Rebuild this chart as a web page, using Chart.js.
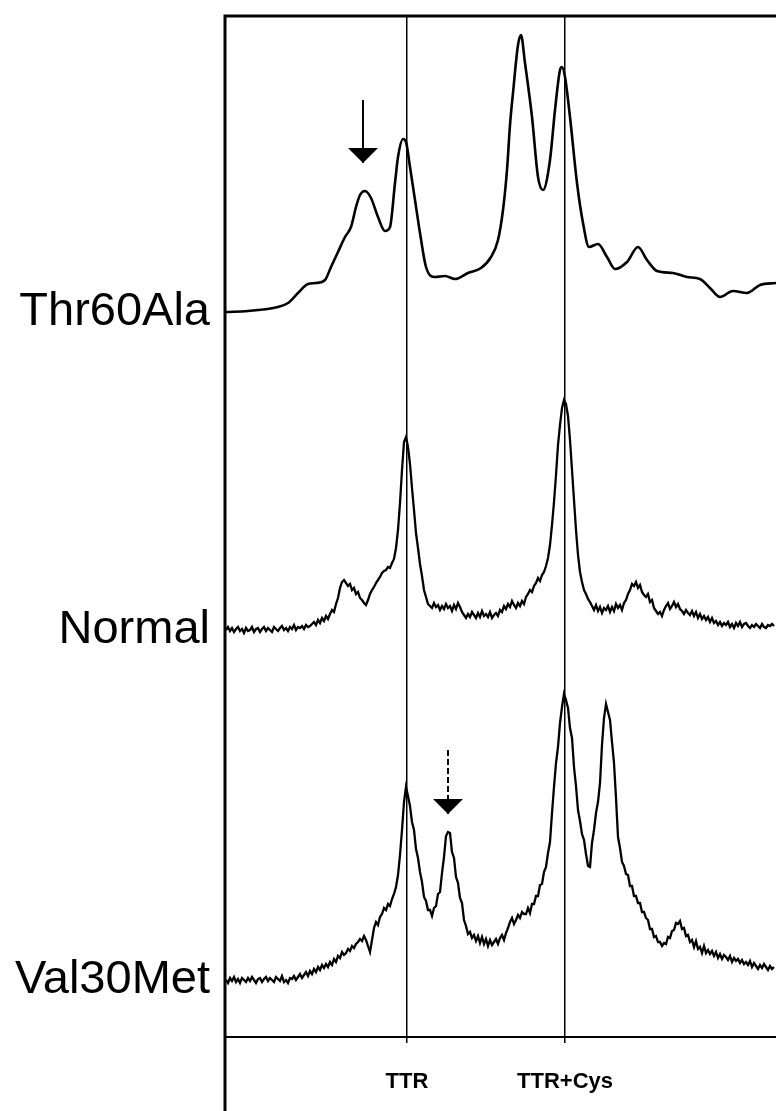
<!DOCTYPE html>
<html>
<head>
<meta charset="utf-8">
<script src="https://cdn.jsdelivr.net/npm/chart.js@4.4.1/dist/chart.umd.min.js"></script>
<style>
html, body { margin: 0; padding: 0; background: #fff; }
canvas { display: block; }
</style>
</head>
<body>
<canvas id="grafico" width="776" height="1111"></canvas>
<script>
// trace names and the level each trace sits at
const traceNames = ['Thr60Ala', 'Normal', 'Val30Met'];
const baselines = [725, 407, 57];

// reference peaks on the x axis
const peakNames = ['TTR', 'TTR+Cys'];
const peakPositions = [181, 339];

// Thr60Ala is smooth, read at uneven points
const thrX = [0, 22, 52, 62, 72, 82, 90, 99, 105, 112, 119, 125, 130, 134, 139, 145, 152, 159, 164, 169,
  172, 177, 180, 184, 189, 194, 200, 209, 219, 229, 242, 255, 265, 272, 277, 281, 284, 287, 292, 295,
  299, 306, 312, 317, 324, 329, 334, 336, 339, 344, 351, 357, 363, 372, 381, 389, 401, 412, 421, 431,
  447, 461, 474, 484, 494, 507, 521, 534, 550];
const thr60Ala = [0, 1, 5, 9, 19, 28, 29, 32, 45, 60, 75, 85, 105, 117, 121, 114, 95, 81, 85, 129,
  155, 173, 170, 145, 112, 79, 45, 35, 36, 33, 39, 44, 55, 72, 102, 142, 187, 219, 267, 277,
  249, 195, 135, 122, 152, 202, 242, 245, 235, 195, 129, 89, 65, 68, 55, 43, 50, 65, 52, 41,
  39, 35, 33, 24, 15, 21, 19, 27, 29];

// Normal and Val30Met are noisy, read every 2 units from 0
const step = 2;
const normal = [
  0, 3, -1, 2, -2, 1, 3, -1, 1, -3,
  2, -1, 0, 3, -2, 1, 2, -2, 1, 3,
  -1, 2, 0, -2, 3, 1, -1, 2, 4, 0,
  2, -1, 3, 1, 5, 0, 3, 2, 4, 1,
  5, 3, 4, 6, 8, 5, 10, 7, 12, 9,
  14, 11, 16, 20, 18, 26, 32, 42, 48, 50,
  47, 44, 46, 40, 42, 36, 38, 32, 30, 27,
  25, 30, 36, 40, 43, 47, 50, 53, 57, 59,
  60, 63, 62, 67, 71, 82, 100, 127, 160, 188,
  193, 183, 166, 142, 120, 97, 82, 66, 54, 40,
  33, 26, 24, 22, 27, 23, 25, 20, 24, 21,
  26, 22, 24, 19, 25, 21, 27, 23, 18, 15,
  12, 16, 13, 18, 15, 12, 17, 13, 19, 14,
  16, 13, 18, 12, 15, 17, 14, 20, 18, 24,
  21, 26, 23, 29, 25, 22, 27, 24, 29, 26,
  33, 36, 40, 38, 44, 47, 52, 49, 55, 58,
  64, 72, 85, 105, 128, 155, 185, 205, 222, 230,
  226, 214, 190, 160, 130, 100, 75, 58, 48, 40,
  36, 31, 28, 24, 20, 25, 19, 23, 17, 22,
  20, 24, 18, 23, 19, 26, 22, 25, 20, 27,
  30, 36, 40, 46, 44, 48, 42, 45, 38, 35,
  33, 36, 28, 30, 22, 19, 16, 18, 14, 20,
  24, 27, 21, 24, 28, 23, 26, 21, 19, 16,
  20, 17, 15, 19, 14, 18, 12, 16, 11, 14,
  10, 13, 8, 12, 7, 9, 5, 8, 4, 7,
  5, 8, 3, 6, 2, 7, 4, 8, 3, 6,
  7, 4, 2, 5, 3, 6, 4, 2, 6, 3,
  2, 5, 4, 6, 4];
const val30Met = [
  0, -3, 2, -1, 3, -2, 1, -3, 2, 0,
  -2, 2, -1, 3, 0, -3, 1, 2, -2, 1,
  3, -1, 2, 0, -2, 3, 1, -1, 4, -2,
  0, -3, 2, 1, 4, 0, 3, 6, 2, 5,
  8, 4, 9, 6, 11, 8, 13, 10, 15, 12,
  16, 13, 18, 15, 21, 18, 24, 22, 28, 25,
  27, 31, 29, 34, 32, 36, 38, 41, 39, 44,
  40, 34, 28, 40, 52, 58, 55, 63, 66, 72,
  70, 76, 74, 81, 86, 93, 105, 125, 150, 178,
  193, 184, 174, 158, 150, 131, 122, 108, 98, 83,
  79, 70, 70, 64, 72, 74, 86, 88, 107, 123,
  144, 148, 147, 128, 122, 103, 97, 82, 77, 60,
  54, 46, 48, 42, 45, 39, 44, 37, 43, 36,
  41, 34, 40, 35, 38, 41, 36, 42, 45, 40,
  47, 52, 58, 62, 56, 60, 65, 62, 68, 66,
  66, 72, 67, 76, 76, 84, 84, 95, 96, 108,
  113, 127, 138, 167, 193, 217, 233, 257, 273, 286,
  280, 272, 252, 242, 213, 194, 170, 159, 146, 140,
  126, 114, 113, 137, 150, 167, 178, 197, 235, 262,
  276, 268, 260, 238, 217, 182, 143, 132, 118, 114,
  106, 105, 94, 94, 84, 84, 77, 77, 68, 68,
  62, 60, 51, 51, 43, 44, 38, 38, 34, 37,
  36, 43, 42, 49, 50, 57, 56, 59, 51, 52,
  44, 45, 38, 40, 33, 39, 31, 33, 27, 34,
  27, 30, 26, 29, 24, 28, 22, 26, 21, 25,
  23, 20, 24, 18, 22, 19, 21, 17, 20, 16,
  18, 15, 19, 13, 17, 14, 11, 15, 12, 16,
  13, 10, 14, 11, 13];

// arrows pointing at the variant peaks
const arrowX = [137, 222];
const arrowFrom = [937, 287];
const arrowTo = [874, 223];
const arrowDashed = [false, true];

const fontFamily = '"Liberation Sans", Arial, sans-serif';

const toPoints = (xs, ys, base) => ys.map((v, i) => ({ x: xs[i], y: v + base }));
const gridPoints = (ys, base) => ys.map((v, i) => ({ x: i * step, y: v + base }));

// arrow head, tip at the image centre
function makeHead() {
    const c = document.createElement('canvas');
    c.width = 30;
    c.height = 30;
    const g = c.getContext('2d');
    g.fillStyle = '#000';
    g.beginPath();
    g.moveTo(0, 0);
    g.lineTo(30, 0);
    g.lineTo(15, 15);
    g.closePath();
    g.fill();
    return c;
}
const head = makeHead();

const traceStyle = {
    borderColor: '#000',
    borderWidth: 2.6,
    pointRadius: 0,
    fill: false,
};

const datasets = [
    { ...traceStyle, data: toPoints(thrX, thr60Ala, baselines[0]), cubicInterpolationMode: 'monotone' },
    { ...traceStyle, data: gridPoints(normal, baselines[1]), borderWidth: 2.3 },
    { ...traceStyle, data: gridPoints(val30Met, baselines[2]), borderWidth: 2.3 },
];

arrowX.forEach((x, i) => {
    datasets.push({
        data: [{ x: x, y: arrowFrom[i] }, { x: x, y: arrowTo[i] }],
        borderColor: '#000',
        borderWidth: 2,
        borderDash: arrowDashed[i] ? [6, 3] : [],
        pointRadius: [0, 5],
        pointStyle: head,
    });
});

const frame = {
    id: 'frame',
    afterDraw(chart) {
        const { ctx, chartArea } = chart;
        ctx.save();
        ctx.strokeStyle = '#000';
        ctx.lineWidth = 3;
        ctx.beginPath();
        ctx.moveTo(chartArea.left - 1, chart.height);
        ctx.lineTo(chartArea.left - 1, chartArea.top);
        ctx.lineTo(chart.width, chartArea.top);
        ctx.stroke();
        ctx.restore();
    }
};

const canvas = document.getElementById('grafico');
new Chart(canvas, {
    type: 'line',
    data: { datasets },
    plugins: [frame],
    options: {
        responsive: false,
        animation: false,
        devicePixelRatio: 1,
        layout: { autoPadding: false, padding: { top: 16, left: 0, right: 0, bottom: 0 } },
        plugins: { legend: { display: false }, tooltip: { enabled: false } },
        scales: {
            x: {
                type: 'linear',
                min: 0,
                max: 550,
                afterBuildTicks: (s) => { s.ticks = peakPositions.map((v) => ({ value: v })); },
                afterFit: (s) => {
                    s.height = 74;
                    s.paddingLeft = 0;
                    s.paddingRight = 0;
                },
                grid: { color: '#000', lineWidth: 1.5, tickLength: 6 },
                border: { display: true, color: '#000', width: 2 },
                ticks: {
                    autoSkip: false,
                    maxRotation: 0,
                    padding: 26,
                    color: '#000',
                    font: { family: fontFamily, size: 22, weight: 'bold' },
                    callback: (v, i) => peakNames[i],
                },
            },
            y: {
                type: 'linear',
                min: 0,
                max: 1021,
                afterBuildTicks: (s) => { s.ticks = baselines.map((v) => ({ value: v })); },
                afterFit: (s) => {
                    s.width = 226;
                    s.paddingTop = 0;
                    s.paddingBottom = 0;
                },
                grid: { display: false, drawTicks: false },
                border: { display: false },
                ticks: {
                    autoSkip: false,
                    padding: 16,
                    color: '#000',
                    font: { family: fontFamily, size: 47 },
                    callback: (v, i) => traceNames[i],
                },
            },
        },
    },
});
</script>
</body>
</html>
